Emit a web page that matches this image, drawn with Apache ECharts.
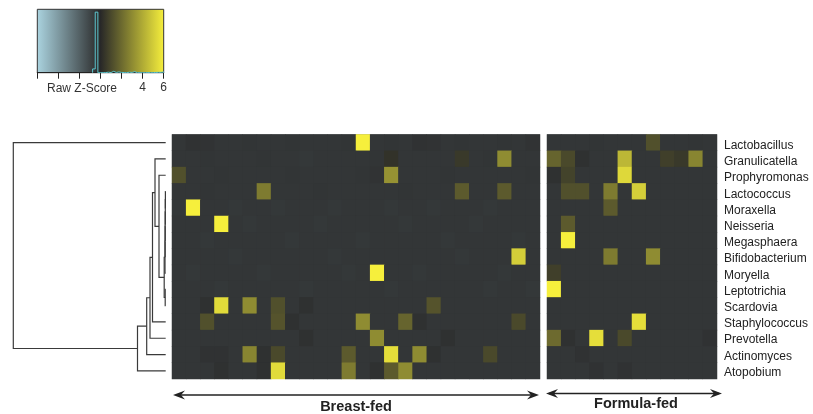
<!DOCTYPE html>
<html>
<head>
<meta charset="utf-8">
<script src="https://cdn.jsdelivr.net/npm/echarts@6/dist/echarts.min.js"></script>
<style>
html,body{margin:0;padding:0;background:#fff;}
#chart{width:813px;height:414px;}
</style>
</head>
<body>
<div id="chart"></div>
<script>
// ---- DATA ----
const rowNames = ['Lactobacillus','Granulicatella','Prophyromonas','Lactococcus','Moraxella','Neisseria','Megasphaera','Bifidobacterium','Moryella','Leptotrichia','Scardovia','Staphylococcus','Prevotella','Actinomyces','Atopobium'];

// Breast-fed samples (26 columns), raw z-scores per row
const breastFed = [
  [-0.5,-0.35,-0.4,-0.5,-0.5,-0.45,-0.5,-0.5,-0.45,-0.5,-0.5,-0.5,-0.45,6.0,-0.5,-0.45,-0.5,-0.35,-0.4,-0.5,-0.45,-0.5,-0.5,-0.45,-0.5,-0.4],
  [-0.5,-0.5,-0.45,-0.5,-0.5,-0.5,-0.45,-0.5,-0.5,-0.55,-0.5,-0.5,-0.5,-0.5,-0.45,0.3,-0.5,-0.5,-0.5,-0.5,0.5,-0.5,-0.45,3.0,-0.5,-0.5],
  [1.2,-0.5,-0.5,-0.45,-0.5,-0.5,-0.5,-0.5,-0.45,-0.5,-0.5,-0.5,-0.5,-0.45,-0.4,3.2,-0.5,-0.5,-0.5,-0.45,-0.5,-0.5,-0.5,-0.5,-0.5,-0.45],
  [-0.5,-0.5,-0.45,-0.5,-0.5,-0.5,2.5,-0.5,-0.5,-0.5,-0.45,-0.5,-0.5,-0.5,-0.5,-0.5,-0.45,-0.5,-0.5,-0.5,1.5,-0.5,-0.5,1.5,-0.5,-0.5],
  [-0.55,6.0,-0.5,-0.5,-0.55,-0.5,-0.5,-0.55,-0.5,-0.5,-0.5,-0.55,-0.5,-0.5,-0.5,-0.55,-0.5,-0.5,-0.55,-0.5,-0.5,-0.5,-0.55,-0.5,-0.5,-0.5],
  [-0.5,-0.5,-0.5,6.0,-0.5,-0.55,-0.5,-0.5,-0.5,-0.5,-0.55,-0.5,-0.5,-0.5,-0.5,-0.5,-0.55,-0.5,-0.5,-0.5,-0.5,-0.55,-0.5,-0.5,-0.5,-0.5],
  [-0.5,-0.5,-0.55,-0.5,-0.5,-0.5,-0.5,-0.5,-0.55,-0.5,-0.5,-0.5,-0.5,-0.55,-0.5,-0.5,-0.5,-0.5,-0.5,-0.55,-0.5,-0.5,-0.5,-0.5,-0.55,-0.5],
  [-0.5,-0.5,-0.5,-0.5,-0.55,-0.5,-0.5,-0.5,-0.5,-0.5,-0.5,-0.55,-0.5,-0.5,-0.5,-0.5,-0.5,-0.5,-0.5,-0.5,-0.55,-0.5,-0.5,-0.5,5.0,-0.5],
  [-0.5,-0.55,-0.5,-0.5,-0.5,-0.5,-0.55,-0.5,-0.5,-0.5,-0.5,-0.5,-0.55,-0.5,6.0,-0.5,-0.5,-0.55,-0.5,-0.5,-0.5,-0.5,-0.5,-0.55,-0.5,-0.5],
  [-0.5,-0.5,-0.5,-0.55,-0.5,-0.5,-0.5,-0.5,-0.5,-0.55,-0.5,-0.5,-0.5,-0.5,-0.5,-0.55,-0.5,-0.5,-0.5,-0.5,-0.5,-0.5,-0.55,-0.5,-0.5,-0.55],
  [-0.5,-0.5,-0.3,5.4,-0.5,3.0,-0.5,1.2,-0.5,-0.3,-0.5,-0.5,-0.5,-0.5,-0.5,-0.5,-0.5,-0.5,1.3,-0.5,-0.5,-0.5,-0.5,-0.5,-0.5,-0.5],
  [-0.5,-0.5,1.2,-0.5,-0.5,-0.5,-0.5,1.3,-0.3,-0.5,-0.5,-0.5,-0.5,3.0,-0.5,-0.5,1.8,-0.3,-0.5,-0.5,-0.5,-0.5,-0.5,-0.5,1.0,-0.5],
  [-0.5,-0.5,-0.5,-0.5,-0.5,-0.5,-0.5,-0.5,-0.5,-0.3,-0.5,-0.5,-0.5,-0.5,3.0,-0.5,-0.5,-0.5,-0.5,-0.3,-0.5,-0.5,-0.5,-0.5,-0.5,-0.5],
  [-0.5,-0.5,-0.35,-0.35,-0.5,2.8,-0.3,1.0,-0.5,-0.5,-0.5,-0.5,1.5,-0.5,-0.5,5.5,-0.5,3.0,-0.3,-0.5,-0.5,-0.5,1.0,-0.5,-0.5,-0.5],
  [-0.5,-0.5,-0.5,-0.3,-0.5,-0.5,-0.3,5.4,-0.5,-0.5,-0.5,-0.5,2.5,-0.5,-0.3,1.5,3.0,-0.5,-0.5,-0.5,-0.5,-0.5,-0.5,-0.5,-0.5,-0.5]
];

// Formula-fed samples (12 columns)
const formulaFed = [
  [-0.5,-0.5,-0.5,-0.45,-0.5,-0.5,-0.5,1.2,-0.5,-0.5,-0.45,-0.5],
  [1.8,1.0,-0.3,-0.5,-0.5,4.3,-0.5,-0.5,0.7,0.5,2.8,-0.5],
  [-0.3,0.8,-0.5,-0.5,-0.5,5.3,-0.5,-0.5,-0.5,-0.5,-0.5,-0.5],
  [-0.5,1.2,1.2,-0.5,2.5,-0.5,5.0,-0.5,-0.5,-0.5,-0.5,-0.5],
  [-0.5,-0.5,-0.5,-0.5,1.5,-0.5,-0.5,-0.5,-0.5,-0.5,-0.5,-0.5],
  [-0.5,1.5,-0.5,-0.5,-0.5,-0.5,-0.5,-0.5,-0.5,-0.5,-0.5,-0.5],
  [-0.5,6.0,-0.5,-0.5,-0.5,-0.5,-0.5,-0.5,-0.5,-0.5,-0.5,-0.5],
  [-0.5,-0.5,-0.5,-0.5,2.5,-0.5,-0.5,3.0,-0.5,-0.5,-0.5,-0.5],
  [0.7,-0.5,-0.5,-0.5,-0.5,-0.5,-0.5,-0.5,-0.5,-0.5,-0.5,-0.5],
  [6.0,-0.5,-0.5,-0.5,-0.5,-0.5,-0.5,-0.5,-0.5,-0.5,-0.5,-0.5],
  [-0.5,-0.5,-0.5,-0.5,-0.5,-0.5,-0.5,-0.5,-0.5,-0.5,-0.5,-0.5],
  [-0.5,-0.5,-0.5,-0.5,-0.5,-0.5,5.5,-0.5,-0.5,-0.5,-0.5,-0.5],
  [2.0,-0.3,-0.5,5.5,-0.5,1.0,-0.5,-0.5,-0.5,-0.5,-0.5,-0.35],
  [-0.5,-0.5,-0.35,-0.5,-0.5,-0.5,-0.5,-0.5,-0.5,-0.5,-0.5,-0.5],
  [-0.5,-0.5,-0.5,-0.35,-0.5,-0.35,-0.5,-0.5,-0.5,-0.5,-0.5,-0.5]
];

// Row dendrogram: [childA, childB, height]; leaves 0..14, merges numbered 15..
const linkage = [
  [3,4,0.3],[15,5,0.4],[16,6,0.5],[17,7,0.6],[18,8,0.7],
  [9,10,0.5],[19,20,1.5],[2,21,6.7],[1,22,10.7],[23,11,13.2],
  [24,12,15.7],[25,13,19.0],[26,14,28.2],[0,27,152.4]
];

// Colour key
const keyMin = -6, keyMax = 6, keyStep = 2;
const keyShownLabels = [4, 6];
const groupNames = ['Breast-fed', 'Formula-fed'];

// ---- BUILD ----
const scaleColors = ['#abd4e0', '#282828', '#f6ef3c'];
const cellBg = '#333637';
const FONT = '"Liberation Sans", Arial, Helvetica, sans-serif';

function cells(m){ const o=[]; m.forEach((row,r)=>row.forEach((v,c)=>o.push([c,r,v]))); return o; }
const bfCols = breastFed[0].map((_,i)=>String(i));
const ffCols = formulaFed[0].map((_,i)=>String(i));

// dendrogram segments
const nLeaf = rowNames.length;
const pos = [];
for (let i=0;i<nLeaf;i++) pos[i]=[0,i];
const dendro = [];
let rootH = 0;
linkage.forEach(([a,b,h],k)=>{
  const pa=pos[a], pb=pos[b];
  dendro.push({coords:[[pa[0],pa[1]],[h,pa[1]],[h,pb[1]],[pb[0],pb[1]]]});
  pos[nLeaf+k]=[h,(pa[1]+pb[1])/2];
  rootH=Math.max(rootH,h);
});

// histogram of all values for colour key
const allVals = breastFed.flat().concat(formulaFed.flat());
const binW = 0.25, nBins = Math.round((keyMax-keyMin)/binW);
const counts = new Array(nBins).fill(0);
allVals.forEach(v=>{ let i=Math.floor((v-keyMin)/binW+1e-9); i=Math.max(0,Math.min(nBins-1,i)); counts[i]++; });
let first=counts.findIndex(c=>c>0), last=nBins-1; while(counts[last]===0) last--;
const hist=[[keyMin+first*binW,0]];
for(let i=first;i<=last;i++){ hist.push([keyMin+i*binW,counts[i]],[keyMin+(i+1)*binW,counts[i]]); }
hist.push([keyMin+(last+1)*binW,0]);
const histMax = Math.max(...counts)/0.955;

const G = {top:134.5, height:244.5};
const chart = echarts.init(document.getElementById('chart'), null, {renderer:'canvas'});
chart.setOption({
  animation:false,
  backgroundColor:'#ffffff',
  textStyle:{fontFamily:FONT},
  grid:[
    {left:172, top:G.top, width:368, height:G.height, show:true, backgroundColor:cellBg, borderWidth:0},
    {left:547, top:G.top, width:170, height:G.height, show:true, backgroundColor:cellBg, borderWidth:0},
    {left:13.3, top:G.top, width:152.4, height:G.height},
    {left:37.3, top:9.3, width:126.4, height:63.4},
    {left:547, top:137.5, width:170, height:243}
  ],
  xAxis:[
    {type:'category', gridIndex:0, data:bfCols, show:false},
    {type:'category', gridIndex:1, data:ffCols, show:false},
    {type:'value', gridIndex:2, min:0, max:rootH, inverse:true, show:false},
    {type:'value', gridIndex:3, min:keyMin, max:keyMax, interval:keyStep,
      axisLine:{show:true, lineStyle:{color:'#222', width:1}},
      axisTick:{show:true, inside:false, length:6, lineStyle:{color:'#222', width:1}},
      axisLabel:{margin:9, fontSize:12, color:'#333', fontFamily:FONT,
        formatter:v=> keyShownLabels.indexOf(v)>=0 ? String(v) : ''},
      splitLine:{show:false}},
    {type:'category', gridIndex:4, data:ffCols, show:false}
  ],
  yAxis:[
    {type:'category', gridIndex:0, data:rowNames, inverse:true, show:false},
    {type:'category', gridIndex:1, data:rowNames, inverse:true, show:false},
    {type:'value', gridIndex:2, min:-0.5, max:nLeaf-0.5, inverse:true, show:false},
    {type:'value', gridIndex:3, min:0, max:histMax, show:false},
    {type:'category', gridIndex:4, data:rowNames, inverse:true, position:'right',
      axisLine:{show:false}, axisTick:{show:false}, splitLine:{show:false},
      axisLabel:{margin:7, fontSize:12, color:'#222', fontFamily:FONT}}
  ],
  visualMap:{type:'continuous', show:false, min:keyMin, max:keyMax, seriesIndex:[0,1],
    inRange:{color:scaleColors}},
  graphic:[
    {type:'rect', z:0, shape:{x:37.3, y:9.3, width:126.4, height:63.4},
      style:{fill:new echarts.graphic.LinearGradient(0,0,1,0,[
        {offset:0,color:scaleColors[0]},{offset:0.5,color:scaleColors[1]},{offset:1,color:scaleColors[2]}]),
        stroke:'#333', lineWidth:1}},
    {type:'text', z:5, style:{text:'Raw Z-Score', x:82, y:89, font:'12px '+FONT, fill:'#333',
      textAlign:'center', textVerticalAlign:'middle', align:'center', verticalAlign:'middle'}},
    // arrows
    {type:'line', z:5, shape:{x1:176, y1:395, x2:536, y2:395}, style:{stroke:'#222', lineWidth:1.5}},
    {type:'polygon', z:5, shape:{points:[[173,395],[185,390.5],[181,395],[185,399.5]]}, style:{fill:'#222'}},
    {type:'polygon', z:5, shape:{points:[[539,395],[527,390.5],[531,395],[527,399.5]]}, style:{fill:'#222'}},
    {type:'line', z:5, shape:{x1:549, y1:393.5, x2:719, y2:393.5}, style:{stroke:'#222', lineWidth:1.5}},
    {type:'polygon', z:5, shape:{points:[[546,393.5],[558,389],[554,393.5],[558,398]]}, style:{fill:'#222'}},
    {type:'polygon', z:5, shape:{points:[[722,393.5],[710,389],[714,393.5],[710,398]]}, style:{fill:'#222'}},
    {type:'text', z:5, style:{text:groupNames[0], x:356, y:407, font:'bold 14.5px '+FONT, fill:'#222',
      textAlign:'center', textVerticalAlign:'middle', align:'center', verticalAlign:'middle'}},
    {type:'text', z:5, style:{text:groupNames[1], x:636, y:404, font:'bold 14.5px '+FONT, fill:'#222',
      textAlign:'center', textVerticalAlign:'middle', align:'center', verticalAlign:'middle'}}
  ],
  series:[
    {type:'heatmap', xAxisIndex:0, yAxisIndex:0, data:cells(breastFed), itemStyle:{borderWidth:0}, emphasis:{disabled:true}, silent:true},
    {type:'heatmap', xAxisIndex:1, yAxisIndex:1, data:cells(formulaFed), itemStyle:{borderWidth:0}, emphasis:{disabled:true}, silent:true},
    {type:'lines', coordinateSystem:'cartesian2d', xAxisIndex:2, yAxisIndex:2, polyline:true, silent:true,
      lineStyle:{color:'#3a3a3a', width:1.2, opacity:1}, data:dendro},
    {type:'line', xAxisIndex:3, yAxisIndex:3, data:hist, symbol:'none', silent:true, z:10,
      lineStyle:{color:'#5cc7cf', width:1}}
  ]
});
</script>
</body>
</html>
